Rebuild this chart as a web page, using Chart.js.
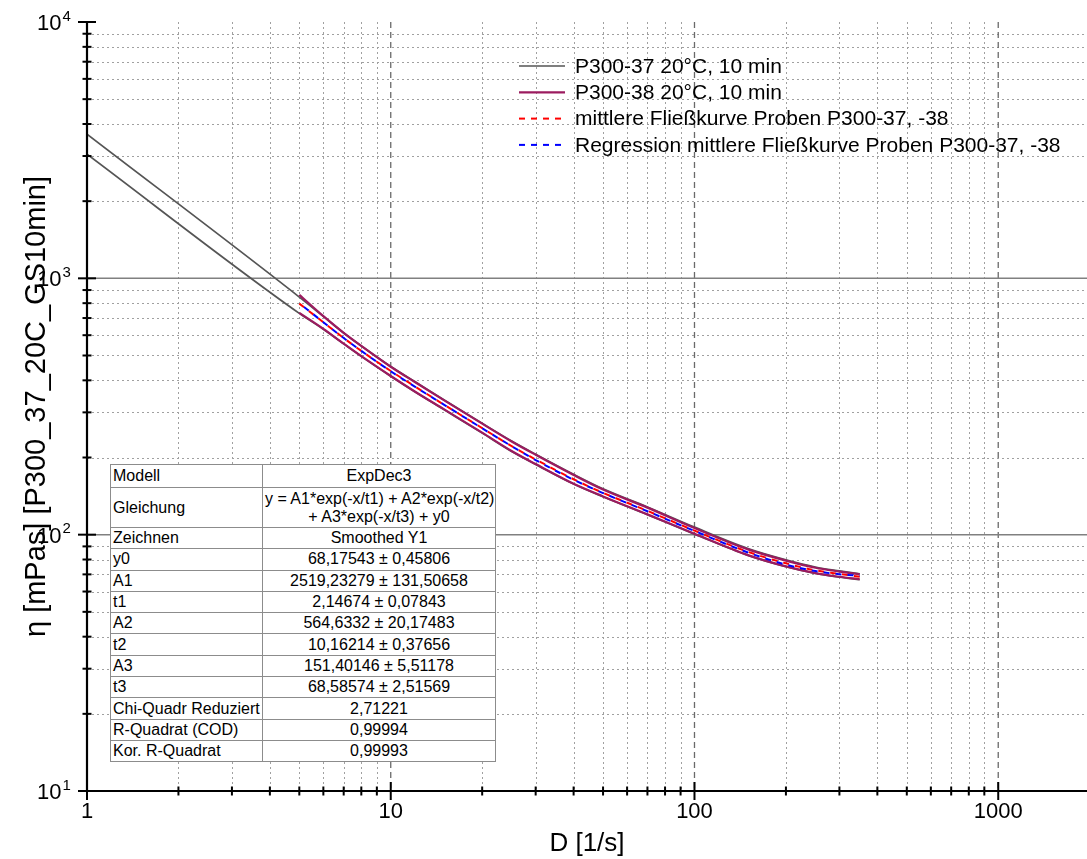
<!DOCTYPE html>
<html>
<head>
<meta charset="utf-8">
<script src="https://cdn.jsdelivr.net/npm/chart.js@4"></script>
<style>
  body { margin: 0; background: #fff; }
  #wrap { position: relative; width: 1087px; height: 859px; }
  #fitTable {
    position: absolute; left: 110px; top: 464px; width: 385px;
    border-collapse: collapse; table-layout: fixed; background: #fff;
    font-family: 'Liberation Sans', Arial, sans-serif; font-size: 16px; color: #000;
  }
  #fitTable td { border: 1px solid #8c8c8c; padding: 0 2px; height: 20.3px; line-height: 18px; white-space: nowrap; overflow: hidden; }
  #fitTable td.val { text-align: center; }
  #fitTable tr.first td { height: 22px; }
  #fitTable tr.tall td { height: 39px; }
</style>
</head>
<body>
<div id="wrap">
  <canvas id="chart" width="1087" height="859"></canvas>
  <table id="fitTable">
    <colgroup><col style="width:152px"><col style="width:233px"></colgroup>
    <tbody id="fitBody"></tbody>
  </table>
</div>
<script>
// shear rate D [1/s] and viscosity readings [mPas]
const shearRate = [5, 6, 7, 8, 10, 12, 15, 20, 25, 30, 40, 50, 70, 100, 150, 200, 250, 300, 350];
const p37Rate = [1, 5, 6, 7, 8, 10, 12, 15, 20, 25, 30, 40, 50, 70, 100, 150, 200, 250, 300, 350];
const p37Upper = [3650, 845, 710, 612, 545, 453, 396, 335, 272, 232, 206, 172, 151, 128.3, 107, 88.3, 79.8, 74.8, 72.2, 70.3];
const p37Lower = [3050, 730, 633, 555, 496, 415, 361, 307, 249, 211, 188, 157.5, 140.5, 119.6, 100.5, 83, 75, 70.6, 68.3, 66.8];
const p38Upper = [862, 712, 613, 545, 452, 394, 334, 271, 231, 205, 171, 150, 127.5, 106.2, 87.6, 79.2, 74.3, 71.8, 70.0];
const p38Lower = [733, 635, 556, 497, 416, 362, 308, 250, 212, 188.5, 158, 141, 120, 100.8, 83.2, 75.2, 70.8, 68.5, 67.0];
const meanCurve = [797, 674, 585, 521, 435, 379, 321, 260.5, 221.5, 196.5, 164.5, 145.6, 123.8, 103.7, 85.7, 77.3, 72.6, 70.3, 68.5];
const regressionCurve = [800, 674, 585, 521, 434, 378, 321, 260, 221.5, 195.5, 163.7, 145.3, 123.4, 103.4, 85.2, 76.4, 72.1, 70.1, 69.1];

const xTickValues = [1, 10, 100, 1000];
const yTickValues = [10, 100, 1000, 10000];

const legendLabels = [
  'P300-37 20°C, 10 min',
  'P300-38 20°C, 10 min',
  'mittlere Fließkurve Proben P300-37, -38',
  'Regression mittlere Fließkurve Proben P300-37, -38'
];

const fitRows = [
  ['Modell', 'ExpDec3'],
  ['Gleichung', 'y = A1*exp(-x/t1) + A2*exp(-x/t2)<br>+ A3*exp(-x/t3) + y0'],
  ['Zeichnen', 'Smoothed Y1'],
  ['y0', '68,17543 ± 0,45806'],
  ['A1', '2519,23279 ± 131,50658'],
  ['t1', '2,14674 ± 0,07843'],
  ['A2', '564,6332 ± 20,17483'],
  ['t2', '10,16214 ± 0,37656'],
  ['A3', '151,40146 ± 5,51178'],
  ['t3', '68,58574 ± 2,51569'],
  ['Chi-Quadr Reduziert', '2,71221'],
  ['R-Quadrat (COD)', '0,99994'],
  ['Kor. R-Quadrat', '0,99993']
];

const fontFamily = "'Liberation Sans', Arial, sans-serif";
Chart.defaults.font.family = fontFamily;
Chart.defaults.color = '#000';

// fill the statistics table
const fitBody = document.getElementById('fitBody');
fitRows.forEach((row, i) => {
  const tr = document.createElement('tr');
  if (i === 0) tr.className = 'first';
  if (i === 1) tr.className = 'tall';
  tr.innerHTML = `<td>${row[0]}</td><td class="val">${row[1]}</td>`;
  fitBody.appendChild(tr);
});

function points(xs, ys) {
  return xs.map((x, i) => ({ x: x, y: ys[i] }));
}

const grayColor = '#555555';
const wineColor = '#9b1b5f';

const datasets = [
  { label: legendLabels[0], data: points(p37Rate, p37Lower), borderColor: grayColor, borderWidth: 1.7, order: 4, legend: true },
  { label: legendLabels[0], data: points(p37Rate, p37Upper), borderColor: grayColor, borderWidth: 1.7, order: 4 },
  { label: legendLabels[1], data: points(shearRate, p38Lower), borderColor: wineColor, borderWidth: 2.2, order: 3, legend: true },
  { label: legendLabels[1], data: points(shearRate, p38Upper), borderColor: wineColor, borderWidth: 2.2, order: 3 },
  { label: legendLabels[2], data: points(shearRate, meanCurve), borderColor: '#ff0000', borderWidth: 2, borderDash: [6, 6], order: 2, legend: true },
  { label: legendLabels[3], data: points(shearRate, regressionCurve), borderColor: '#0000ff', borderWidth: 2, borderDash: [6, 6], borderDashOffset: 6, order: 1, legend: true }
];
datasets.forEach(d => { d.showLine = true; d.pointRadius = 0; d.cubicInterpolationMode = 'monotone'; });

function subValues(min, max) {
  const out = [];
  for (let d = Math.pow(10, Math.floor(Math.log10(min))); d < max; d *= 10) {
    for (let m = 2; m <= 9; m++) {
      const v = m * d;
      if (v > min && v < max) out.push(v);
    }
  }
  return out;
}

function seg(ctx, x1, y1, x2, y2) {
  ctx.beginPath();
  ctx.moveTo(x1, y1);
  ctx.lineTo(x2, y2);
  ctx.stroke();
}

// grid, axes with crossing ticks, power-of-ten labels and the legend
const originFrame = {
  id: 'originFrame',
  beforeDatasetsDraw(chart) {
    const { ctx, chartArea: a, scales: { x, y } } = chart;
    ctx.save();
    ctx.lineWidth = 1;
    ctx.strokeStyle = '#a0a0a0';
    ctx.setLineDash([2, 3]);
    subValues(x.min, x.max).forEach(v => {
      const px = Math.round(x.getPixelForValue(v)) + 0.5;
      seg(ctx, px, a.top, px, a.bottom);
    });
    subValues(y.min, y.max).forEach(v => {
      const py = Math.round(y.getPixelForValue(v)) + 0.5;
      seg(ctx, a.left, py, a.right, py);
    });
    ctx.strokeStyle = '#6a6a6a';
    ctx.lineWidth = 1.3;
    ctx.setLineDash([6, 4]);
    xTickValues.slice(1).forEach(v => {
      const px = x.getPixelForValue(v);
      seg(ctx, px, a.top, px, a.bottom);
    });
    ctx.setLineDash([]);
    ctx.strokeStyle = '#808080';
    ctx.lineWidth = 1.5;
    yTickValues.slice(1, -1).forEach(v => {
      const py = y.getPixelForValue(v);
      seg(ctx, a.left, py, a.right, py);
    });
    ctx.restore();
  },
  afterDatasetsDraw(chart) {
    const { ctx, chartArea: a, scales: { x, y } } = chart;
    ctx.save();
    ctx.strokeStyle = '#000';
    ctx.lineWidth = 2.2;
    seg(ctx, a.left, a.top, a.left, a.bottom + 1);
    seg(ctx, a.left - 1, a.bottom, a.right, a.bottom);
    ctx.lineWidth = 2;
    xTickValues.forEach(v => { const px = x.getPixelForValue(v); seg(ctx, px, a.bottom - 9, px, a.bottom + 9); });
    subValues(x.min, x.max).forEach(v => { const px = x.getPixelForValue(v); seg(ctx, px, a.bottom - 4.5, px, a.bottom + 4.5); });
    yTickValues.forEach(v => { const py = y.getPixelForValue(v); seg(ctx, a.left - 9, py, a.left + 9, py); });
    subValues(y.min, y.max).forEach(v => { const py = y.getPixelForValue(v); seg(ctx, a.left - 4.5, py, a.left + 4.5, py); });

    // y labels as 10 with a raised exponent
    ctx.fillStyle = '#000';
    yTickValues.forEach(v => {
      const py = y.getPixelForValue(v);
      ctx.font = '22px ' + fontFamily;
      ctx.textAlign = 'right';
      ctx.textBaseline = 'alphabetic';
      ctx.fillText('10', 61.5, py + 8);
      ctx.font = '15px ' + fontFamily;
      ctx.textAlign = 'left';
      ctx.fillText(String(Math.round(Math.log10(v))), 62.5, py - 1.5);
    });

    // legend
    ctx.font = '21px ' + fontFamily;
    ctx.textAlign = 'left';
    ctx.textBaseline = 'middle';
    chart.data.datasets.filter(d => d.legend).forEach((d, i) => {
      const ly = 66 + i * 26.3;
      ctx.strokeStyle = d.borderColor;
      ctx.lineWidth = d.borderWidth;
      ctx.setLineDash(d.borderDash || []);
      seg(ctx, 519, ly, 565, ly);
      ctx.fillText(d.label, 575, ly + 1);
    });
    ctx.restore();
  }
};

new Chart(document.getElementById('chart'), {
  type: 'scatter',
  data: { datasets: datasets },
  options: {
    responsive: false,
    animation: false,
    layout: { padding: { top: 22, right: 0, bottom: 0, left: 0 } },
    plugins: { legend: { display: false }, tooltip: { enabled: false } },
    scales: {
      x: {
        type: 'logarithmic',
        min: 1,
        max: 1960,
        grid: { display: false, drawTicks: false },
        border: { display: false },
        afterBuildTicks: s => { s.ticks = xTickValues.map(v => ({ value: v })); },
        afterFit: s => { s.height = 68; },
        ticks: { autoSkip: false, maxRotation: 0, padding: 8, color: '#000', font: { size: 22 }, callback: v => String(v) },
        title: { display: true, text: 'D [1/s]', color: '#000', font: { size: 26 }, padding: 0 }
      },
      y: {
        type: 'logarithmic',
        min: 10,
        max: 10000,
        grid: { display: false, drawTicks: false },
        border: { display: false },
        afterFit: s => { s.width = 87; },
        ticks: { display: false },
        title: { display: true, text: 'η [mPas] [P300_37_20C_GS10min]', color: '#000', font: { size: 29 }, padding: { top: 20, bottom: 0 } }
      }
    }
  },
  plugins: [originFrame]
});
</script>
</body>
</html>
